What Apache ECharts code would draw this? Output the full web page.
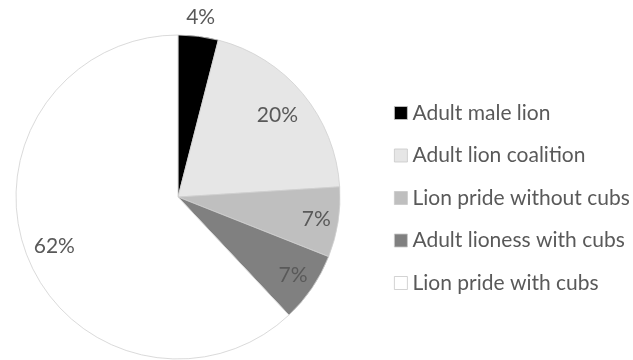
<!DOCTYPE html>
<html>
<head>
<meta charset="utf-8">
<style>
  html, body { margin: 0; padding: 0; background: #ffffff; }
  #chart { width: 633px; height: 360px; }
</style>
<script src="https://cdn.jsdelivr.net/npm/echarts@6/dist/echarts.min.js"></script>
</head>
<body>
<div id="chart"></div>
<script>
// Lion group types and their share of sightings (%)
const categories = [
  'Adult male lion',
  'Adult lion coalition',
  'Lion pride without cubs',
  'Adult lioness with cubs',
  'Lion pride with cubs'
];
const shares = [4, 20, 7, 7, 62];
const sliceColors = ['#000000', '#e6e6e6', '#bfbfbf', '#808080', '#ffffff'];

// Distance of each percentage label from the pie centre, in px
const labelDistance = [178, 126, 137, 136, 130];

const CENTER = [178, 197];
const RADIUS = 162;
const FONT = 'Lato, "Open Sans", sans-serif';
const TEXT_COLOR = '#595959';
const FONT_SIZE = 21;

const chart = echarts.init(document.getElementById('chart'), null, { renderer: 'canvas' });

const pieData = categories.map((name, i) => ({
  name,
  value: shares[i],
  itemStyle: { color: sliceColors[i] }
}));

// Main pie: the coloured slices
const mainSeries = {
  type: 'pie',
  center: CENTER,
  radius: [0, RADIUS],
  startAngle: 90,
  clockwise: true,
  avoidLabelOverlap: false,
  silent: true,
  label: { show: false },
  labelLine: { show: false },
  itemStyle: { borderColor: '#d0d0d0', borderWidth: 0.8 },
  data: pieData
};

// Thin transparent rings that carry one percentage label each,
// so every label sits at its own distance from the centre
const labelSeries = categories.map((_, k) => ({
  type: 'pie',
  center: CENTER,
  radius: [labelDistance[k] - 0.5, labelDistance[k] + 0.5],
  startAngle: 90,
  clockwise: true,
  avoidLabelOverlap: false,
  silent: true,
  labelLine: { show: false },
  itemStyle: { color: 'rgba(0,0,0,0)', borderWidth: 0 },
  data: categories.map((name, i) => ({
    name,
    value: shares[i],
    label: {
      show: i === k,
      position: 'inside',
      formatter: '{c}%',
      color: TEXT_COLOR,
      fontFamily: FONT,
      fontSize: FONT_SIZE
    }
  }))
}));

chart.setOption({
  animation: false,
  backgroundColor: '#ffffff',
  legend: {
    orient: 'vertical',
    left: 394,
    top: 101,
    padding: 0,
    itemWidth: 13,
    itemHeight: 13,
    itemGap: 18.5,
    icon: 'rect',
    selectedMode: false,
    data: categories,
    itemStyle: { borderColor: '#c8c8c8', borderWidth: 0.8 },
    textStyle: {
      color: TEXT_COLOR,
      fontFamily: FONT,
      fontSize: FONT_SIZE,
      lineHeight: 24
    }
  },
  series: [mainSeries, ...labelSeries]
});
</script>
</body>
</html>
